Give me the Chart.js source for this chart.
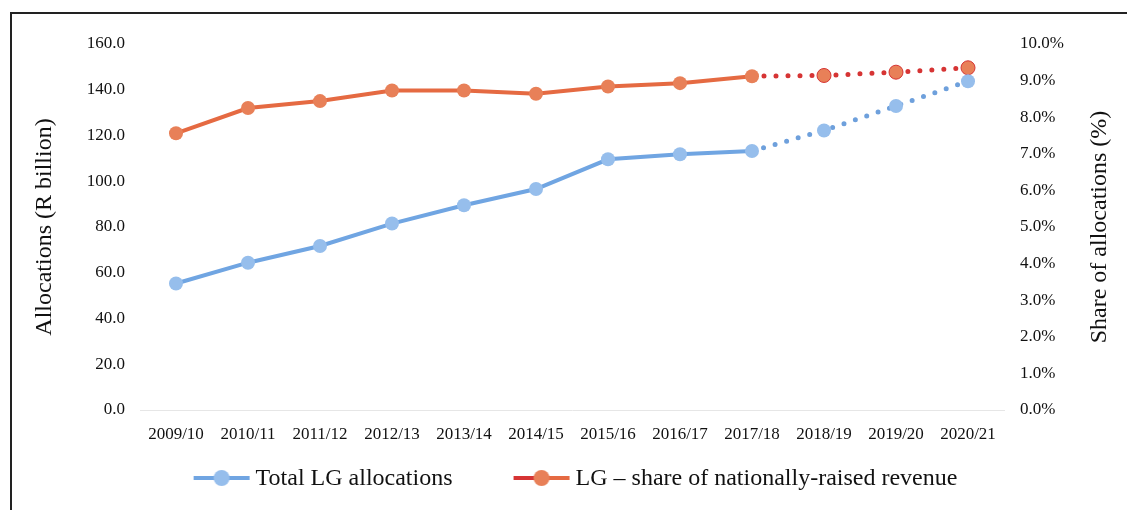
<!DOCTYPE html>
<html>
<head>
<meta charset="utf-8">
<script src="https://cdn.jsdelivr.net/npm/chart.js@4"></script>
<style>
  html, body { margin: 0; padding: 0; background: #fff; }
  #wrap { position: relative; width: 1127px; height: 510px; overflow: hidden; }
  #chart { position: absolute; left: 0; top: 0; }
  .frame { position: absolute; left: 10px; top: 12px; width: 1200px; height: 600px;
           border-top: 2px solid #222; border-left: 2px solid #222; pointer-events: none; }
</style>
</head>
<body>
<div id="wrap">
  <canvas id="chart" width="1127" height="510"></canvas>
  <div class="frame"></div>
</div>
<script>
  // values
  const years = ['2009/10', '2010/11', '2011/12', '2012/13', '2013/14', '2014/15',
                 '2015/16', '2016/17', '2017/18', '2018/19', '2019/20', '2020/21'];
  const allocations = [55.3, 64.4, 71.7, 81.5, 89.5, 96.6, 109.6, 111.8, 113.2, 122.2, 132.9, 143.7];
  const sharePct = [7.56, 8.25, 8.44, 8.73, 8.73, 8.64, 8.84, 8.93, 9.12, 9.14, 9.23, 9.35];
  const leftTicks = [0, 20, 40, 60, 80, 100, 120, 140, 160];
  const rightTicks = [0, 1, 2, 3, 4, 5, 6, 7, 8, 9, 10];
  const lastActual = 8; // 2017/18, later years are dotted (estimates)
  const leftTitle = 'Allocations (R billion)';
  const rightTitle = 'Share of allocations (%)';
  const seriesNames = ['Total LG allocations', 'LG \u2013 share of nationally-raised revenue'];

  const blue = 'rgb(112,165,226)';
  const blueDot = 'rgb(150,190,236)';
  const blueDash = 'rgb(110,160,220)';
  const orange = 'rgb(229,106,66)';
  const orangeDot = 'rgb(232,128,88)';
  const red = 'rgb(214,52,52)';
  const serif = "'Liberation Serif', 'Times New Roman', serif";

  // little legend glyph: line with a round marker
  function legendGlyph(lineLeft, lineRight, dot) {
    const c = document.createElement('canvas');
    c.width = 58; c.height = 20;
    const g = c.getContext('2d');
    g.lineWidth = 4;
    g.strokeStyle = lineLeft;
    g.beginPath(); g.moveTo(1, 10); g.lineTo(29, 10); g.stroke();
    g.strokeStyle = lineRight;
    g.beginPath(); g.moveTo(29, 10); g.lineTo(57, 10); g.stroke();
    g.fillStyle = dot;
    g.beginPath(); g.arc(29, 10, 8, 0, Math.PI * 2); g.fill();
    return c;
  }
  const glyphs = [legendGlyph(blue, blue, blueDot), legendGlyph(red, orange, orangeDot)];

  // axis titles (both read bottom-to-top) and the legend
  const extras = {
    id: 'extras',
    afterDraw(chart) {
      const { ctx, chartArea } = chart;
      ctx.save();
      ctx.fillStyle = '#111';
      ctx.font = '24px ' + serif;
      ctx.textBaseline = 'middle';
      ctx.textAlign = 'center';
      const midY = (chartArea.top + chartArea.bottom) / 2;
      [[chartArea.left - 95, leftTitle], [chartArea.right + 96, rightTitle]].forEach(([x, t]) => {
        ctx.save();
        ctx.translate(x, midY);
        ctx.rotate(-Math.PI / 2);
        ctx.fillText(t, 0, 0);
        ctx.restore();
      });

      ctx.textAlign = 'left';
      const gap = 5, between = 60;
      const widths = seriesNames.map((n, i) => glyphs[i].width + gap + ctx.measureText(n).width);
      const total = widths[0] + between + widths[1];
      let x = (chartArea.left + chartArea.right) / 2 + 3 - total / 2;
      const y = 478;
      seriesNames.forEach((n, i) => {
        ctx.drawImage(glyphs[i], x, y - glyphs[i].height / 2);
        ctx.fillText(n, x + glyphs[i].width + gap, y + 1);
        x += widths[i] + between;
      });
      ctx.restore();
    }
  };

  const proj = (ctx, a, b) => ctx.p0DataIndex >= lastActual ? a : b;

  new Chart(document.getElementById('chart'), {
    type: 'line',
    data: {
      labels: years,
      datasets: [{
        label: seriesNames[0],
        data: allocations,
        yAxisID: 'y',
        borderColor: blue,
        borderWidth: 4,
        pointRadius: 7,
        pointBackgroundColor: blueDot,
        pointBorderWidth: 0,
        segment: {
          borderColor: ctx => proj(ctx, blueDash),
          borderDash: ctx => proj(ctx, [0, 12]),
          borderCapStyle: ctx => proj(ctx, 'round'),
          borderWidth: ctx => proj(ctx, 5)
        }
      }, {
        label: seriesNames[1],
        data: sharePct,
        yAxisID: 'y1',
        borderColor: orange,
        borderWidth: 4,
        pointRadius: 7,
        pointBackgroundColor: orangeDot,
        pointBorderColor: years.map((_, i) => i > lastActual ? red : orangeDot),
        pointBorderWidth: years.map((_, i) => i > lastActual ? 1 : 0),
        segment: {
          borderColor: ctx => proj(ctx, red),
          borderDash: ctx => proj(ctx, [0, 12]),
          borderCapStyle: ctx => proj(ctx, 'round'),
          borderWidth: ctx => proj(ctx, 5)
        }
      }]
    },
    plugins: [extras],
    options: {
      responsive: false,
      animation: false,
      layout: { padding: { left: 10, right: 0, top: 44, bottom: 0 } },
      plugins: {
        tooltip: { enabled: false },
        legend: { display: false }
      },
      scales: {
        x: {
          offset: true,
          afterFit: s => { s.height = 100; },
          grid: { display: false, drawTicks: false },
          border: { display: true, color: '#e6e6e6', dash: [3, 6] },
          ticks: { color: '#111', font: { family: serif, size: 17 }, padding: 14, maxRotation: 0 }
        },
        y: {
          position: 'left',
          min: 0, max: 160,
          afterFit: s => { s.width = 130; },
          afterBuildTicks: s => { s.ticks = leftTicks.map(v => ({ value: v })); },
          grid: { display: false, drawTicks: false },
          border: { display: false },
          ticks: { color: '#111', font: { family: serif, size: 17 }, padding: 15,
                   callback: v => v.toFixed(1) }
        },
        y1: {
          position: 'right',
          min: 0, max: 10,
          afterFit: s => { s.width = 123; },
          afterBuildTicks: s => { s.ticks = rightTicks.map(v => ({ value: v })); },
          grid: { display: false, drawTicks: false },
          border: { display: false },
          ticks: { color: '#111', font: { family: serif, size: 17 }, padding: 16,
                   callback: v => v.toFixed(1) + '%' }
        }
      }
    }
  });
</script>
</body>
</html>
